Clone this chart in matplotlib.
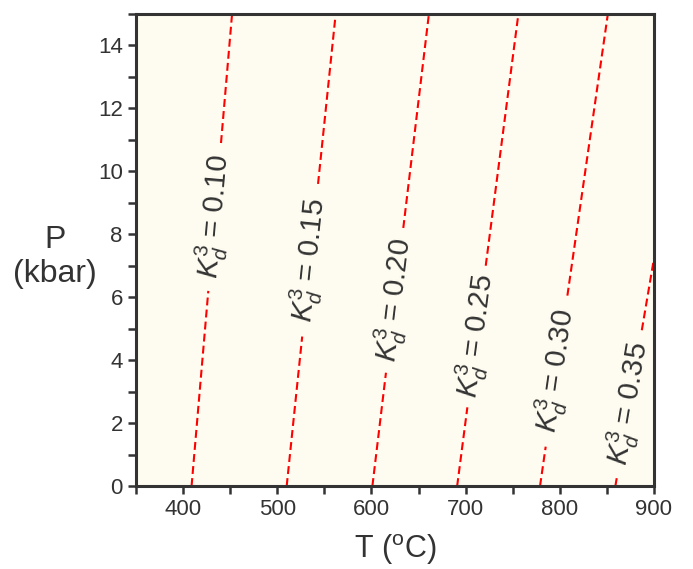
import numpy as np
import matplotlib
matplotlib.use("Agg")
import matplotlib.pyplot as plt
from matplotlib.ticker import MultipleLocator

plt.rcParams['font.family'] = ['Liberation Sans', 'DejaVu Sans']
plt.rcParams['mathtext.fontset'] = 'custom'
plt.rcParams['mathtext.rm'] = 'Liberation Sans'
plt.rcParams['mathtext.it'] = 'Liberation Sans:italic'

# Kd3 isopleths: temperature at P=0 and P=15 kbar
kd_values = ["0.10", "0.15", "0.20", "0.25", "0.30", "0.35"]
T_at_P0 = [409, 510, 601, 691, 779, 859]
T_at_P15 = [452, 562, 661, 756, 851, 944]
# label gaps along each line (P range in kbar)
gap_low = [6.2, 4.75, 3.6, 2.5, 1.25, 0.3]
gap_high = [10.9, 9.6, 8.2, 7.0, 6.05, 4.95]

xticks = [400, 500, 600, 700, 800, 900]
yticks = [0, 2, 4, 6, 8, 10, 12, 14]

txt = '#333333'
fig = plt.figure(figsize=(6.93, 5.69), dpi=100)
ax = fig.add_axes([136/693, 1-486/569, (654-136)/693, (486-14)/569])
ax.set_facecolor('#FEFCF0')
ax.set_xlim(350, 900)
ax.set_ylim(0, 15)

for kd, t0, t15, gl, gh in zip(kd_values, T_at_P0, T_at_P15, gap_low, gap_high):
    def T(p):
        return t0 + (t15 - t0) * p / 15.0
    ls = (0, (3.8, 2.0))
    ax.plot([T(0), T(gl)], [0, gl], color='#FF0000', lw=1.5, linestyle=ls, clip_on=True)
    ax.plot([T(gh), T(15)], [gh, 15], color='#FF0000', lw=1.5, linestyle=ls, clip_on=True)
    pc = (gl + gh) / 2
    p1 = ax.transData.transform((T(0), 0))
    p2 = ax.transData.transform((T(15), 15))
    ang = np.degrees(np.arctan2(p2[1] - p1[1], p2[0] - p1[0]))
    ax.text(T(pc), pc, r'$K_d^3$ = ' + kd, rotation=ang, rotation_mode='anchor',
            ha='center', va='center', fontsize=21, color=txt)

ax.set_xticks(xticks)
ax.set_yticks(yticks)
ax.xaxis.set_minor_locator(MultipleLocator(50))
ax.yaxis.set_minor_locator(MultipleLocator(1))
ax.tick_params(which='both', direction='out', length=6, width=1.8, colors=txt,
               labelsize=16, labelcolor=txt)
for s in ax.spines.values():
    s.set_linewidth(2.2)
    s.set_color(txt)

ax.set_xlabel('T ($\\mathregular{^o}$C)', fontsize=22, color=txt, labelpad=9)
fig.text(55/693, 1-257/569, 'P\n(kbar)', fontsize=23, color=txt, ha='center', va='center',
         linespacing=1.15)

fig.savefig('out.png', dpi=100)
